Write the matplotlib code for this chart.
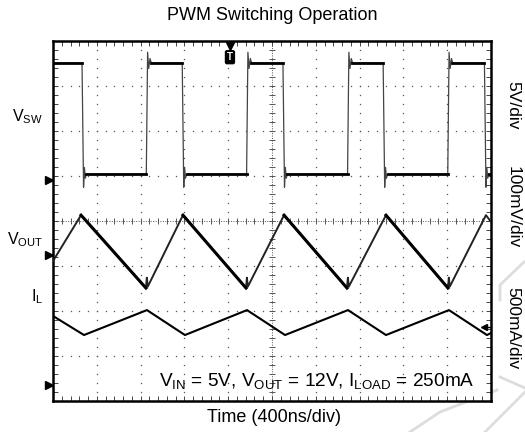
import matplotlib.pyplot as plt
from matplotlib.lines import Line2D

plt.rcParams['font.family'] = ['Liberation Sans', 'DejaVu Sans']
plt.rcParams['mathtext.default'] = 'regular'

# scope settings
NS_PER_DIV = 400
N_XDIV, N_YDIV = 10, 8
SW_SCALE, SW_REF = 5.0, 4.91        # V/div, ground marker (div)
VOUT_SCALE, VOUT_REF = 100.0, 3.24  # mV/div, AC coupled
IL_SCALE, IL_REF = 500.0, 0.36      # mA/div

# switch node: edge times (ns) and levels (V)
sw_fall_ns = [265, 1180, 2100, 3015, 3940]
sw_rise_ns = [852, 1768, 2690, 3605]
sw_high_v = 13.0
sw_low_v = 0.65
sw_overshoot_v = 14.2
sw_undershoot_v = -0.8

# output ripple (mV)
vout_t_ns = [0, 256, 849, 857, 865, 1187, 1763, 1771, 1779, 2110, 2685, 2693, 2701, 3041, 3607, 3615, 3623, 3954, 4000]
vout_mv = [-13, 89, -73, -50, -70, 89, -73, -50, -70, 89, -73, -50, -70, 89, -73, -50, -70, 89, 74]

# inductor current (mA)
il_t_ns = [0, 283, 858, 1205, 1772, 2119, 2694, 3041, 3616, 3963, 4000]
il_ma = [765, 553, 830, 553, 830, 553, 830, 553, 830, 553, 575]

trigger_ns = 1616


def to_div(vals, scale, ref):
    return [ref + v / scale for v in vals]


def t_div(ts):
    return [t / NS_PER_DIV for t in ts]


def build_sw():
    t, v = [0], [sw_high_v]
    flats = []
    start = 0
    edges = sorted([(x, 'f') for x in sw_fall_ns] + [(x, 'r') for x in sw_rise_ns])
    for te, kind in edges:
        if kind == 'f':
            flats.append((start, te, sw_high_v))
            t += [te, te + 14, te + 22, te + 30, te + 40]
            v += [sw_high_v, sw_undershoot_v, 1.4, 0.2, sw_low_v]
        else:
            flats.append((start, te, sw_low_v))
            t += [te, te + 12, te + 22, te + 34, te + 46]
            v += [sw_low_v, sw_overshoot_v, 12.4, 13.5, sw_high_v]
        start = te + 40
    t.append(N_XDIV * NS_PER_DIV)
    v.append(sw_low_v)
    flats.append((start, N_XDIV * NS_PER_DIV, sw_low_v))
    return t, v, flats


fig = plt.figure(figsize=(5.25, 4.32), dpi=100)
ax = fig.add_axes([53 / 525, 31 / 432, 438 / 525, 360 / 432])
ax.set_xlim(0, N_XDIV)
ax.set_ylim(0, N_YDIV)

# graticule dots
gx, gy = [], []
for i in range(1, N_XDIV):
    if i == 5:
        continue
    for j in range(N_YDIV * 5 + 1):
        gx.append(i); gy.append(j * 0.2)
for j in range(1, N_YDIV):
    if j == 4:
        continue
    for k in range(N_XDIV * 5 + 1):
        gx.append(k * 0.2); gy.append(j)
ax.plot(gx, gy, ls='none', marker='s', ms=0.9, mew=0, color='#555555', zorder=1)

# centre cross with ticks
ax.axvline(5, color='#555555', lw=0.7, ls=(0, (1, 1.5)), zorder=1)
ax.axhline(4, color='#555555', lw=0.7, ls=(0, (1, 1.5)), zorder=1)
ax.plot([5] * 41, [j * 0.2 for j in range(41)], ls='none', marker='_', ms=4, mew=0.7, color='#555555', zorder=1)
ax.plot([k * 0.2 for k in range(51)], [4] * 51, ls='none', marker='|', ms=4, mew=0.7, color='#555555', zorder=1)

# frame ticks
ax.set_xticks(range(0, N_XDIV + 1))
ax.set_yticks(range(0, N_YDIV + 1))
ax.set_xticks([k * 0.2 for k in range(N_XDIV * 5 + 1)], minor=True)
ax.set_yticks([k * 0.2 for k in range(N_YDIV * 5 + 1)], minor=True)
ax.tick_params(which='both', direction='in', length=3.5, width=0.7, color='#444444',
               top=True, right=True, labelbottom=False, labelleft=False)
for s in ax.spines.values():
    s.set_linewidth(1.8)

# VSW
sw_t, sw_v, sw_flats = build_sw()
ax.plot(t_div(sw_t), to_div(sw_v, SW_SCALE, SW_REF), color='#444444', lw=0.9, zorder=3)
for a, b, lvl in sw_flats:
    ax.plot(t_div([a, b]), to_div([lvl, lvl], SW_SCALE, SW_REF), color='black', lw=2.0, zorder=4)

# VOUT
vx = t_div(vout_t_ns)
vy = to_div(vout_mv, VOUT_SCALE, VOUT_REF)
ax.plot(vx, vy, color='#222222', lw=1.4, zorder=3)
for i in range(len(vx) - 1):
    if vy[i + 1] < vy[i] - 0.5:
        ax.plot(vx[i:i + 2], vy[i:i + 2], color='black', lw=2.2, zorder=4)

# IL
ax.plot(t_div(il_t_ns), to_div(il_ma, IL_SCALE, IL_REF), color='black', lw=1.5, zorder=3)

# channel ground markers on left edge
ytr = ax.get_yaxis_transform()
for ref in [SW_REF, VOUT_REF, IL_REF]:
    ax.plot(-0.008, ref, marker='>', ms=6, color='black', transform=ytr, clip_on=False, zorder=5)

# trigger level arrow on right
ax.plot(9.84, 1.64, marker='<', ms=5, color='black', zorder=5)
ax.plot([9.84, 9.98], [1.64, 1.64], color='black', lw=1.0, zorder=5)

# trigger position marker
xtr = ax.get_xaxis_transform()
ax.plot(trigger_ns / NS_PER_DIV, 0.985, marker='v', ms=6, color='black', transform=xtr, clip_on=False, zorder=5)
ax.text(trigger_ns / NS_PER_DIV, 0.955, 'T', transform=xtr, ha='center', va='center',
        color='white', fontsize=7, fontweight='bold',
        bbox=dict(boxstyle='round,pad=0.15', fc='black', ec='black'), zorder=6)

ax.text(0.962, 0.055, r'$V_{IN}$ = 5V, $V_{OUT}$ = 12V, $I_{LOAD}$ = 250mA',
        transform=ax.transAxes, ha='right', va='center', fontsize=13.7, zorder=6)

# labels
fig.text(272 / 525, 1 - 16 / 432, 'PWM Switching Operation', ha='center', va='center', fontsize=13)
fig.text(274 / 525, 1 - 417 / 432, 'Time (400ns/div)', ha='center', va='center', fontsize=13)
fig.text(43 / 525, 1 - 117 / 432, r'$V_{SW}$', ha='right', va='center', fontsize=11.5)
fig.text(43 / 525, 1 - 240 / 432, r'$V_{OUT}$', ha='right', va='center', fontsize=11.5)
fig.text(43 / 525, 1 - 297 / 432, r'$I_{L}$', ha='right', va='center', fontsize=11.5)
fig.text(513 / 525, 1 - 105 / 432, '5V/div', rotation=-90, ha='center', va='center', fontsize=12.5)
fig.text(513 / 525, 1 - 207 / 432, '100mV/div', rotation=-90, ha='center', va='center', fontsize=12.5)
fig.text(513 / 525, 1 - 328 / 432, '500mA/div', rotation=-90, ha='center', va='center', fontsize=12.5)

# faint watermark strokes
wm = '#dddddd'
for xs, ys in [([524, 500, 500], [262, 285, 300]),
               ([500, 525], [377, 388]),
               ([410, 440, 497], [432, 412, 390]),
               ([485, 525], [432, 392])]:
    fig.add_artist(Line2D([x / 525 for x in xs], [1 - y / 432 for y in ys],
                          color=wm, lw=2.0, zorder=0))

fig.savefig('out.png', dpi=100)
